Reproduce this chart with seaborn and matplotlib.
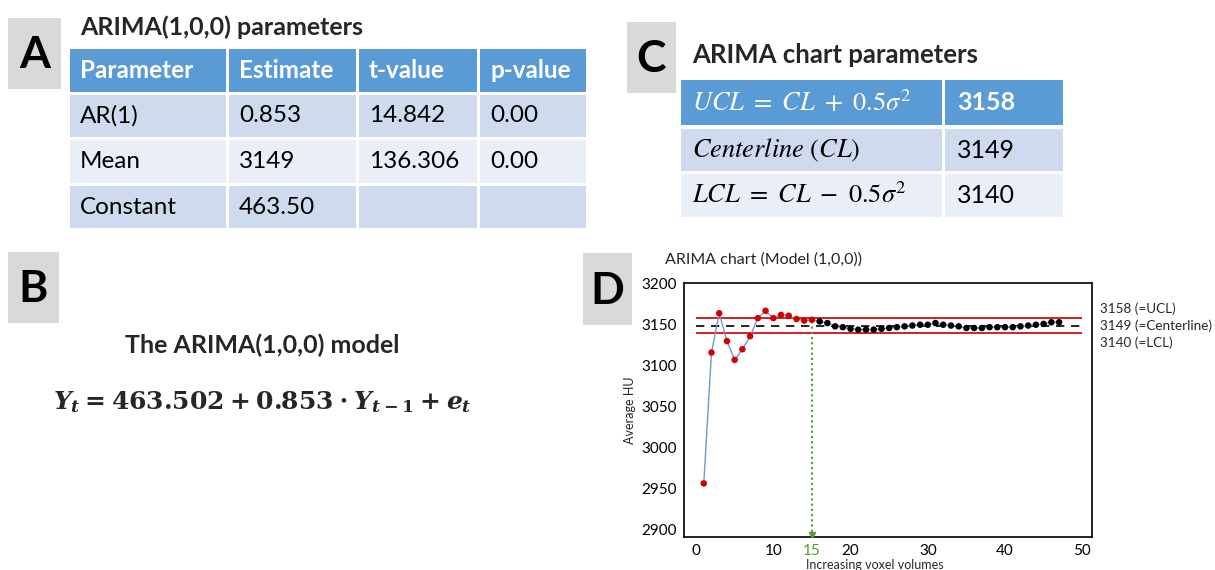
import matplotlib
matplotlib.use("Agg")
import matplotlib.pyplot as plt
import seaborn as sns
import pandas as pd
from matplotlib.patches import Rectangle

# ---- data ----
table_a_cols = ["Parameter", "Estimate", "t-value", "p-value"]
table_a_params = ["AR(1)", "Mean", "Constant"]
table_a_estimate = ["0.853", "3149", "463.50"]
table_a_tvalue = ["14.842", "136.306", ""]
table_a_pvalue = ["0.00", "0.00", ""]

table_c_labels = [r"$UCL\ =\ CL\ +\ 0.5\sigma^2$", r"$Centerline\ (CL)$", r"$LCL\ =\ CL\ -\ 0.5\sigma^2$"]
table_c_values = ["3158", "3149", "3140"]

ucl, centerline, lcl = 3158, 3149, 3140
stable_from = 15

volumes = list(range(1, 48))
avg_hu = [2956, 3116, 3164, 3130, 3107, 3120, 3136, 3158, 3167, 3158,
          3162, 3161, 3157, 3155, 3156, 3154, 3152, 3148, 3147, 3145,
          3144, 3144, 3144, 3145, 3146, 3147, 3148, 3149, 3150, 3150,
          3152, 3150, 3149, 3148, 3146, 3146, 3146, 3147, 3147, 3147,
          3147, 3148, 3149, 3150, 3151, 3153, 3153]

sns.set_theme(style="white")
plt.rcParams["font.family"] = ["Lato", "DejaVu Sans"]
plt.rcParams["mathtext.fontset"] = "custom"
plt.rcParams["mathtext.it"] = "DejaVu Serif:italic:bold"
plt.rcParams["mathtext.rm"] = "DejaVu Serif:bold"
plt.rcParams["mathtext.bf"] = "DejaVu Serif:bold"

HEAD = "#5b9bd5"
BAND1 = "#cfdaee"
BAND2 = "#e9eef7"
BOXGRAY = "#d9d9d9"
GREEN = "#5a9a32"

fig = plt.figure(figsize=(12.15, 5.7), dpi=100)
ov = fig.add_axes([0, 0, 1, 1])
ov.set_xlim(0, 1215)
ov.set_ylim(570, 0)
ov.axis("off")


def cell(x0, y0, x1, y1, color):
    ov.add_patch(Rectangle((x0, y0), x1 - x0, y1 - y0, color=color, lw=0))


def letter_box(x0, y0, x1, y1, letter):
    cell(x0, y0, x1, y1, BOXGRAY)
    ov.text((x0 + x1) / 2, (y0 + y1) / 2 + 2, letter, fontsize=32, fontweight="bold",
            ha="center", va="center", color="black")


# ---- panel A ----
letter_box(8, 18, 61, 89, "A")
ov.text(80, 27, "ARIMA(1,0,0) parameters", fontsize=18, fontweight="bold", va="center")
col_edges = [68, 227, 357, 478, 587]
row_edges = [(49, 92), (95, 137), (140, 183), (186, 228)]
for j in range(4):
    cell(col_edges[j] + 1.5, row_edges[0][0], col_edges[j + 1] - 1.5, row_edges[0][1], HEAD)
    ov.text(col_edges[j] + 12, sum(row_edges[0]) / 2, table_a_cols[j], fontsize=17.5,
            fontweight="bold", color="white", va="center")
body = [table_a_params, table_a_estimate, table_a_tvalue, table_a_pvalue]
for i in range(3):
    y0, y1 = row_edges[i + 1]
    bg = BAND1 if i % 2 == 0 else BAND2
    for j in range(4):
        cell(col_edges[j] + 1.5, y0, col_edges[j + 1] - 1.5, y1, bg)
        ov.text(col_edges[j] + 12, (y0 + y1) / 2, body[j][i], fontsize=17.5,
                color="black", va="center")

# ---- panel C ----
letter_box(627, 22, 676, 93, "C")
ov.text(692, 55, "ARIMA chart parameters", fontsize=18.5, fontweight="bold", va="center")
c_rows = [(80, 125), (129, 171), (174, 217)]
c_cols = [681, 943, 1063]
c_bg = [HEAD, BAND1, BAND2]
for i in range(3):
    y0, y1 = c_rows[i]
    cell(c_cols[0], y0, c_cols[1] - 1.5, y1, c_bg[i])
    cell(c_cols[1] + 1.5, y0, c_cols[2], y1, c_bg[i])
    fc = "white" if i == 0 else "black"
    ov.text(692, (y0 + y1) / 2, table_c_labels[i], fontsize=19, color=fc, va="center",
            math_fontfamily="stix")
    ov.text(957, (y0 + y1) / 2, table_c_values[i], fontsize=18, color=fc, va="center",
            fontweight="bold" if i == 0 else "normal")

# ---- panel B ----
letter_box(8, 252, 59, 323, "B")
ov.text(262, 345, "The ARIMA(1,0,0) model", fontsize=18, fontweight="bold",
        ha="center", va="center")
ov.text(262, 402, r"$Y_t = 463.502 + 0.853 \cdot Y_{t-1} + e_t$", fontsize=18,
        ha="center", va="center", math_fontfamily="custom")

# ---- panel D ----
letter_box(583, 253, 632, 325, "D")
ov.text(665, 260, "ARIMA chart (Model (1,0,0))", fontsize=11.5, va="center")

ax = fig.add_axes([684 / 1215, 1 - 537 / 570, 408 / 1215, 254 / 570])
df = pd.DataFrame({"volume": volumes, "hu": avg_hu})
df["phase"] = ["early" if v <= stable_from else "stable" for v in df["volume"]]

ax.hlines([ucl, lcl], 0, 50, color="#d42020", lw=1.4, zorder=2)
ax.hlines(centerline, 0, 50, color="black", lw=1.2, linestyles=(0, (5, 4)), zorder=2)
sns.lineplot(data=df, x="volume", y="hu", color="#6a9ccf", lw=1.0, ax=ax, zorder=3)
sns.scatterplot(data=df, x="volume", y="hu", hue="phase",
                palette={"early": "#d40000", "stable": "black"},
                s=22, edgecolor="none", legend=False, ax=ax, zorder=4)

y_bottom = 2890.5
stable_hu = df.loc[df["volume"] == stable_from, "hu"].iloc[0]
ax.vlines(stable_from, y_bottom, stable_hu, color=GREEN, lw=1.5, linestyles=(0, (1, 1.5)), zorder=3)
ax.plot([stable_from], [y_bottom + 2.5], marker="v", color=GREEN, ms=5, zorder=5)

ax.set_xlim(-1.56, 51.26)
ax.set_ylim(y_bottom, 3201)
ax.set_xticks([0, 10, 15, 20, 30, 40, 50])
ax.set_yticks([2900, 2950, 3000, 3050, 3100, 3150, 3200])
ax.tick_params(direction="in", length=6, width=1.2, labelsize=11, pad=5, colors="black")
for lab in ax.get_xticklabels():
    if lab.get_text() == str(stable_from):
        lab.set_color(GREEN)
for sp in ax.spines.values():
    sp.set_color("black")
    sp.set_linewidth(1.2)
ax.set_xlabel("Increasing voxel volumes", fontsize=9, labelpad=2)
ax.xaxis.set_label_coords(0.468, -0.085)
ax.set_ylabel("Average HU", fontsize=9, labelpad=4)

span = 3201 - y_bottom
cl_frac = (centerline - y_bottom) / span
ax.text(1.02, cl_frac + 0.066, f"{ucl} (=UCL)", transform=ax.transAxes,
        fontsize=9.7, va="center")
ax.text(1.02, cl_frac, f"{centerline} (=Centerline)",
        transform=ax.transAxes, fontsize=9.7, va="center")
ax.text(1.02, cl_frac - 0.066, f"{lcl} (=LCL)", transform=ax.transAxes,
        fontsize=9.7, va="center")

fig.savefig("out.png", dpi=100, facecolor="white")
